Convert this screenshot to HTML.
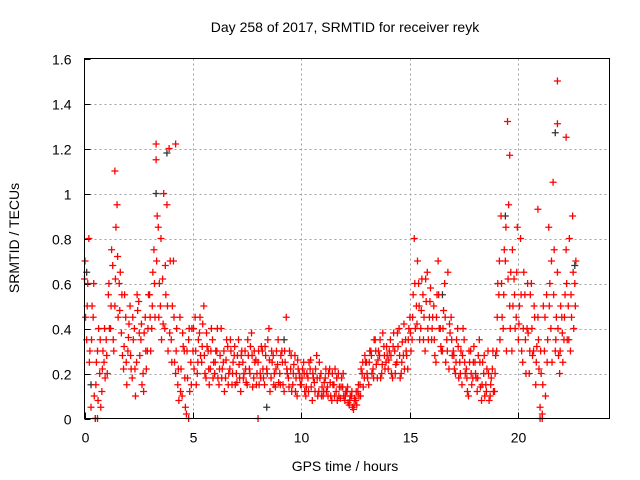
<!DOCTYPE html>
<html><head><meta charset="utf-8"><style>
html,body{margin:0;padding:0;background:#fff;}
svg{display:block;font-family:"Liberation Sans",sans-serif;}
</style></head><body>
<svg id="chart" width="640" height="480">
<text x="345" y="32" font-size="14" text-anchor="middle">Day 258 of 2017, SRMTID for receiver reyk</text>
<text x="19" y="238" font-size="14" text-anchor="middle" transform="rotate(-90 19 238)">SRMTID / TECUs</text>
<text x="345" y="471" font-size="14" text-anchor="middle">GPS time / hours</text>
<g id="grid"></g>
<g id="ticks"></g>
<g id="pts"></g>
<rect x="84.5" y="58.5" width="525" height="360" fill="none" stroke="#000"/>
</svg>
<script>
const xTicks=[0,5,10,15,20];
const yTicks=[0,0.2,0.4,0.6,0.8,1,1.2,1.4,1.6];
const yTickLabels=["0","0.2","0.4","0.6","0.8","1","1.2","1.4","1.6"];
const startHour=0, stepHour=0.1;
const valuesA=[0.62,0.35,0.80,0.05,0.45,0.00,0.30,0.20,0.12,0.25,
0.35,0.55,0.40,0.68,0.50,0.95,0.60,0.38,0.22,0.45,
0.30,0.50,0.18,0.40,0.25,0.52,0.35,0.20,0.45,0.30,
0.55,0.40,0.75,1.15,0.85,0.50,0.62,0.40,0.95,1.20,
0.35,0.70,0.20,0.15,0.45,0.10,0.30,0.02,0.35,0.25,
0.30,0.45,0.20,0.38,0.25,0.50,0.18,0.30,0.22,0.35,
0.20,0.30,0.15,0.40,0.25,0.18,0.32,0.22,0.15,0.28,
0.20,0.35,0.12,0.25,0.30,0.15,0.22,0.38,0.18,0.26,
0.25,0.20,0.30,0.15,0.22,0.40,0.18,0.28,0.14,0.24,
0.20,0.30,0.12,0.45,0.18,0.22,0.15,0.28,0.10,0.20,
0.15,0.25,0.10,0.18,0.22,0.08,0.16,0.28,0.12,0.20,
0.10,0.18,0.14,0.22,0.08,0.15,0.12,0.20,0.09,0.14,
0.08,0.12,0.06,0.10,0.04,0.08,0.12,0.15,0.20,0.18,
0.25,0.15,0.30,0.22,0.35,0.18,0.28,0.20,0.32,0.25,
0.22,0.35,0.18,0.30,0.25,0.40,0.20,0.28,0.35,0.22,
0.45,0.35,0.80,0.50,0.60,0.40,0.55,0.30,0.65,0.45,
0.35,0.50,0.25,0.70,0.40,0.30,0.60,0.35,0.22,0.45,
0.30,0.20,0.40,0.25,0.15,0.35,0.22,0.10,0.30,0.18,
0.25,0.12,0.35,0.08,0.20,0.15,0.30,0.10,0.22,0.12,
0.30,0.55,0.90,0.40,0.70,1.32,0.50,0.30,0.62,0.45,
0.35,0.80,0.25,0.55,0.40,0.20,0.60,0.30,0.15,0.45,
0.05,0.02,0.30,0.55,0.85,0.40,1.05,0.30,0.65,0.20,
0.45,0.35,0.75,0.50,0.30,0.90,0.60];
const valuesB=[0.45,0.60,0.30,0.50,0.10,0.25,0.40,0.05,0.30,0.18,
0.20,0.40,0.75,0.30,0.85,0.45,0.65,0.28,0.55,0.15,
0.42,0.22,0.35,0.10,0.48,0.28,0.15,0.38,0.22,0.55,
0.30,0.65,0.45,0.90,0.60,0.35,1.00,0.55,0.30,0.70,
0.50,0.25,0.40,0.08,0.22,0.32,0.05,0.18,0.12,0.40,
0.22,0.15,0.35,0.28,0.42,0.20,0.32,0.15,0.40,0.25,
0.30,0.18,0.28,0.22,0.12,0.35,0.20,0.30,0.25,0.15,
0.28,0.18,0.30,0.20,0.16,0.28,0.32,0.14,0.25,0.20,
0.15,0.32,0.18,0.28,0.35,0.12,0.25,0.20,0.30,0.16,
0.28,0.15,0.25,0.20,0.30,0.12,0.24,0.18,0.22,0.15,
0.22,0.12,0.20,0.25,0.14,0.18,0.22,0.10,0.18,0.14,
0.16,0.12,0.20,0.10,0.15,0.22,0.08,0.14,0.18,0.10,
0.12,0.07,0.10,0.05,0.09,0.06,0.10,0.22,0.14,0.25,
0.18,0.30,0.20,0.35,0.24,0.30,0.18,0.38,0.22,0.28,
0.30,0.20,0.38,0.24,0.32,0.18,0.34,0.22,0.28,0.40,
0.30,0.55,0.40,0.70,0.35,0.62,0.45,0.52,0.35,0.58,
0.45,0.28,0.55,0.40,0.30,0.48,0.25,0.65,0.38,0.28,
0.22,0.35,0.18,0.30,0.40,0.20,0.12,0.25,0.15,0.32,
0.18,0.28,0.14,0.25,0.10,0.22,0.08,0.18,0.12,0.28,
0.60,0.35,0.45,0.75,0.30,0.95,0.65,0.50,0.40,0.85,
0.50,0.30,0.65,0.20,0.38,0.55,0.28,0.45,0.32,0.22,
0.20,0.50,0.10,0.35,0.60,0.25,0.75,0.45,0.28,0.50,
0.25,0.55,0.35,0.80,0.45,0.40,0.70];
const valuesC=[0.70,0.50,0.25,0.35,0.60,0.15,0.08,0.35,0.22,0.40,
0.28,0.60,0.50,0.35,0.62,0.72,0.48,0.55,0.32,0.25,
0.36,0.28,0.45,0.22,0.55,0.38,0.42,0.12,0.30,0.40,
0.45,0.50,0.60,0.70,0.45,0.80,0.42,0.68,0.50,0.38,
0.25,0.45,0.30,0.22,0.12,0.38,0.18,0.30,0.40,0.15,
0.40,0.30,0.25,0.45,0.32,0.28,0.38,0.22,0.30,0.18,
0.25,0.40,0.22,0.18,0.30,0.26,0.15,0.35,0.20,0.32,
0.16,0.24,0.28,0.18,0.22,0.35,0.20,0.28,0.30,0.15,
0.30,0.18,0.22,0.32,0.20,0.26,0.30,0.15,0.22,0.35,
0.15,0.25,0.30,0.22,0.14,0.28,0.20,0.12,0.26,0.18,
0.18,0.20,0.14,0.12,0.26,0.20,0.12,0.18,0.25,0.10,
0.12,0.22,0.10,0.16,0.20,0.10,0.18,0.10,0.14,0.20,
0.10,0.14,0.08,0.12,0.06,0.12,0.15,0.10,0.25,0.28,
0.20,0.25,0.28,0.18,0.30,0.26,0.35,0.24,0.28,0.32,
0.26,0.28,0.32,0.20,0.38,0.28,0.25,0.42,0.30,0.35,
0.38,0.45,0.60,0.42,0.50,0.48,0.35,0.62,0.40,0.52,
0.40,0.35,0.45,0.55,0.32,0.40,0.45,0.30,0.42,0.35,
0.28,0.25,0.32,0.20,0.28,0.25,0.18,0.30,0.20,0.25,
0.20,0.18,0.25,0.15,0.28,0.12,0.20,0.15,0.30,0.20,
0.45,0.70,0.60,0.55,0.85,0.62,0.40,0.75,0.55,0.65,
0.42,0.55,0.40,0.35,0.60,0.30,0.40,0.50,0.25,0.35,
0.30,0.15,0.45,0.25,0.50,0.70,0.55,0.35,0.40,0.30,
0.38,0.45,0.60,0.35,0.55,0.65,0.50];
const peakHours=[1.4,3.3,4.2,21.8,21.8,22.2,19.6,20.9,0.5,0.6,4.8,8.0,21.0,21.1];
const peakValues=[1.1,1.22,1.22,1.5,1.31,1.25,1.17,0.93,0,0,0,0,0,0];
const blackHours=[0.1,3.3,3.8,16.5,19.4,21.7,22.6,9.2,8.4,0.3];
const blackValues=[0.65,1.0,1.18,0.55,0.9,1.27,0.68,0.35,0.05,0.15];

const X0=84.5,X1=609.5,Y0=418.5,Y1=58.5,XMAX=24.2,YMAX=1.6;
const xs=v=>X0+(v/XMAX)*(X1-X0);
const ys=v=>Y0-(v/YMAX)*(Y0-Y1);
const NS="http://www.w3.org/2000/svg";
function mk(tag,attrs,parent){const e=document.createElementNS(NS,tag);for(const k in attrs)e.setAttribute(k,attrs[k]);parent.appendChild(e);return e;}
const grid=document.getElementById('grid'),ticks=document.getElementById('ticks'),pts=document.getElementById('pts');
xTicks.forEach(t=>{const x=Math.round(xs(t))+0.5;
 if(t>0){const g=mk('line',{x1:x,x2:x,y1:Y1,y2:Y0,stroke:'#a0a0a0','stroke-dasharray':'2,3'},grid);
 
 }
 mk('line',{x1:x,x2:x,y1:Y0,y2:Y0-6,stroke:'#000'},ticks);
 const l=mk('text',{x:x,y:Y0+24,'font-size':14,'text-anchor':'middle'},ticks);l.textContent=t;
 
 });
yTicks.forEach((t,i)=>{const y=Math.round(ys(t))+0.5;
 if(t>0&&t<YMAX){const g=mk('line',{x1:X0,x2:X1,y1:y,y2:y,stroke:'#a0a0a0','stroke-dasharray':'2,3'},grid);
 
 }
 mk('line',{x1:X0,x2:X0+6,y1:y,y2:y,stroke:'#000'},ticks);
 const l=mk('text',{x:X0-13,y:y+5,'font-size':14,'text-anchor':'end'},ticks);l.textContent=yTickLabels[i];
 
 });
function plus(h,v,color){const x=xs(h),y=ys(v);
 const p=mk('path',{d:`M${x-3.5},${y}h7M${x},${y-3.5}v7`,stroke:color,'stroke-width':1.3,fill:'none'},pts);
 
 }
blackHours.forEach((h,i)=>plus(h,blackValues[i],'#333'));
valuesA.forEach((v,i)=>plus(startHour+i*stepHour,v,'#f00'));
valuesB.forEach((v,i)=>plus(startHour+i*stepHour+0.05,v,'#f00'));
valuesC.forEach((v,i)=>plus(startHour+i*stepHour+0.025,v,'#f00'));
peakHours.forEach((h,i)=>plus(h,peakValues[i],'#f00'));
</script>
</body></html>
